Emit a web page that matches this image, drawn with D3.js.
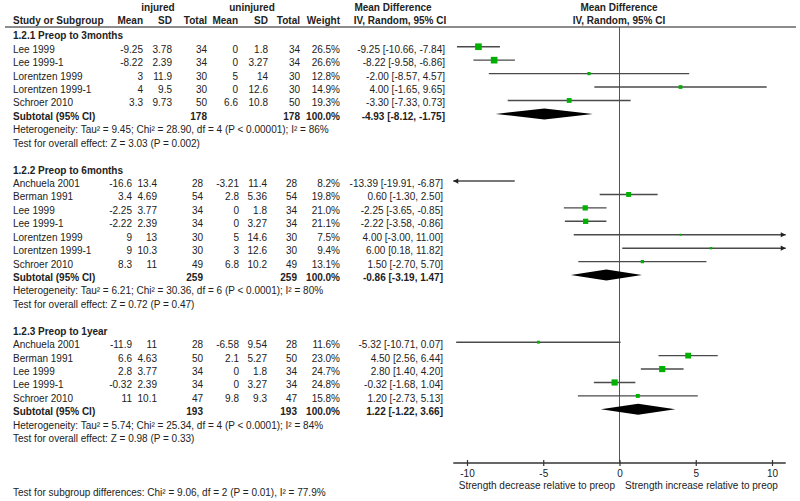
<!DOCTYPE html>
<html lang="en">
<head>
<meta charset="utf-8">
<title>Strength change forest plot</title>
<script src="https://cdn.jsdelivr.net/npm/d3@7"></script>
<style>
  body { margin: 0; background: #fff; }
  svg text { font-family: "Liberation Sans", Arial, sans-serif; font-size: 10px; fill: #222; }
  svg text.b { font-weight: bold; }
</style>
</head>
<body>
<svg width="800" height="501"></svg>
<script>
// ---- 1.2.1 Preop to 3months
var s1Title = "1.2.1 Preop to 3months";
var s1Studies = ["Lee 1999", "Lee 1999-1", "Lorentzen 1999", "Lorentzen 1999-1", "Schroer 2010"];
var s1InjMean = ["-9.25", "-8.22", "3", "4", "3.3"];
var s1InjSD = ["3.78", "2.39", "11.9", "9.5", "9.73"];
var s1InjN = [34, 34, 30, 30, 50];
var s1UnjMean = ["0", "0", "5", "0", "6.6"];
var s1UnjSD = ["1.8", "3.27", "14", "12.6", "10.8"];
var s1UnjN = [34, 34, 30, 30, 50];
var s1Weight = [26.5, 26.6, 12.8, 14.9, 19.3];
var s1MD = [-9.25, -8.22, -2.00, 4.00, -3.30];
var s1Lo = [-10.66, -9.58, -8.57, -1.65, -7.33];
var s1Hi = [-7.84, -6.86, 4.57, 9.65, 0.73];
var s1Total = [178, 178];
var s1Sub = [-4.93, -8.12, -1.75];
var s1Het = "Heterogeneity: Tau² = 9.45; Chi² = 28.90, df = 4 (P < 0.00001); I² = 86%";
var s1Test = "Test for overall effect: Z = 3.03 (P = 0.002)";

// ---- 1.2.2 Preop to 6months
var s2Title = "1.2.2 Preop to 6months";
var s2Studies = ["Anchuela 2001", "Berman 1991", "Lee 1999", "Lee 1999-1", "Lorentzen 1999", "Lorentzen 1999-1", "Schroer 2010"];
var s2InjMean = ["-16.6", "3.4", "-2.25", "-2.22", "9", "9", "8.3"];
var s2InjSD = ["13.4", "4.69", "3.77", "2.39", "13", "10.3", "11"];
var s2InjN = [28, 54, 34, 34, 30, 30, 49];
var s2UnjMean = ["-3.21", "2.8", "0", "0", "5", "3", "6.8"];
var s2UnjSD = ["11.4", "5.36", "1.8", "3.27", "14.6", "12.6", "10.2"];
var s2UnjN = [28, 54, 34, 34, 30, 30, 49];
var s2Weight = [8.2, 19.8, 21.0, 21.1, 7.5, 9.4, 13.1];
var s2MD = [-13.39, 0.60, -2.25, -2.22, 4.00, 6.00, 1.50];
var s2Lo = [-19.91, -1.30, -3.65, -3.58, -3.00, 0.18, -2.70];
var s2Hi = [-6.87, 2.50, -0.85, -0.86, 11.00, 11.82, 5.70];
var s2Total = [259, 259];
var s2Sub = [-0.86, -3.19, 1.47];
var s2Het = "Heterogeneity: Tau² = 6.21; Chi² = 30.36, df = 6 (P < 0.0001); I² = 80%";
var s2Test = "Test for overall effect: Z = 0.72 (P = 0.47)";

// ---- 1.2.3 Preop to 1year
var s3Title = "1.2.3 Preop to 1year";
var s3Studies = ["Anchuela 2001", "Berman 1991", "Lee 1999", "Lee 1999-1", "Schroer 2010"];
var s3InjMean = ["-11.9", "6.6", "2.8", "-0.32", "11"];
var s3InjSD = ["11", "4.63", "3.77", "2.39", "10.1"];
var s3InjN = [28, 50, 34, 34, 47];
var s3UnjMean = ["-6.58", "2.1", "0", "0", "9.8"];
var s3UnjSD = ["9.54", "5.27", "1.8", "3.27", "9.3"];
var s3UnjN = [28, 50, 34, 34, 47];
var s3Weight = [11.6, 23.0, 24.7, 24.8, 15.8];
var s3MD = [-5.32, 4.50, 2.80, -0.32, 1.20];
var s3Lo = [-10.71, 2.56, 1.40, -1.68, -2.73];
var s3Hi = [0.07, 6.44, 4.20, 1.04, 5.13];
var s3Total = [193, 193];
var s3Sub = [1.22, -1.22, 3.66];
var s3Het = "Heterogeneity: Tau² = 5.74; Chi² = 25.34, df = 4 (P < 0.0001); I² = 84%";
var s3Test = "Test for overall effect: Z = 0.98 (P = 0.33)";

var axisTicks = [-10, -5, 0, 5, 10];
var subgroupTest = "Test for subgroup differences: Chi² = 9.06, df = 2 (P = 0.01), I² = 77.9%";

function section(title, studies, im, isd, inn, um, usd, un, w, md, lo, hi, tot, sub, het, test) {
    return {title: title, het: het, test: test, total: tot, sub: sub,
        rows: studies.map(function(s, i) {
            return {study: s, im: im[i], isd: isd[i], inn: inn[i], um: um[i], usd: usd[i], un: un[i],
                    w: w[i], md: md[i], lo: lo[i], hi: hi[i]};
        })};
}

var sections = [
    section(s1Title, s1Studies, s1InjMean, s1InjSD, s1InjN, s1UnjMean, s1UnjSD, s1UnjN, s1Weight, s1MD, s1Lo, s1Hi, s1Total, s1Sub, s1Het, s1Test),
    section(s2Title, s2Studies, s2InjMean, s2InjSD, s2InjN, s2UnjMean, s2UnjSD, s2UnjN, s2Weight, s2MD, s2Lo, s2Hi, s2Total, s2Sub, s2Het, s2Test),
    section(s3Title, s3Studies, s3InjMean, s3InjSD, s3InjN, s3UnjMean, s3UnjSD, s3UnjN, s3Weight, s3MD, s3Lo, s3Hi, s3Total, s3Sub, s3Het, s3Test)
];

var svg = d3.select("svg");

// right-edge column positions (first block was laid out a bit wider)
var colsA = {im: 143, isd: 172, inn: 207, um: 238, usd: 268, un: 300, w: 340, ci: 445};
var colsB = {im: 132, isd: 157, inn: 203, um: 239, usd: 267, un: 297, w: 340, ci: 443};

var x = d3.scaleLinear().domain([-10, 10]).range([467, 772]);
var xMin = x(-10.9), xMax = x(10.9);
var rowY = d3.scaleLinear().domain([0, 30]).range([33.3, 436.2]);
var axisY = 463;

function txt(xp, yp, s, anchor, bold) {
    svg.append("text")
        .attr("x", xp).attr("y", yp)
        .attr("text-anchor", anchor || "start")
        .attr("class", bold ? "b" : null)
        .text(s);
}

// column headers
txt(158, 11, "injured", "middle", true);
txt(252, 11, "uninjured", "middle", true);
txt(393, 11, "Mean Difference", "middle", true);
txt(619, 11, "Mean Difference", "middle", true);
txt(13, 24, "Study or Subgroup", "start", true);
txt(colsA.im, 24, "Mean", "end", true);
txt(colsA.isd, 24, "SD", "end", true);
txt(colsA.inn, 24, "Total", "end", true);
txt(colsA.um, 24, "Mean", "end", true);
txt(colsA.usd, 24, "SD", "end", true);
txt(colsA.un, 24, "Total", "end", true);
txt(colsA.w, 24, "Weight", "end", true);
txt(400, 24, "IV, Random, 95% CI", "middle", true);
txt(619, 24, "IV, Random, 95% CI", "middle", true);

svg.append("line")
    .attr("x1", 5).attr("x2", 796).attr("y1", 27).attr("y2", 27)
    .attr("stroke", "#666").attr("stroke-width", 1.5);

// zero line
svg.append("line")
    .attr("x1", x(0)).attr("x2", x(0)).attr("y1", 27).attr("y2", axisY)
    .attr("stroke", "#555").attr("stroke-width", 1);

function ciText(m, l, h) {
    return m.toFixed(2) + " [" + l.toFixed(2) + ", " + h.toFixed(2) + "]";
}

var start = 0;
sections.forEach(function(sec, si) {
    var c = si === 0 ? colsA : colsB;
    var dy = 6;
    txt(13, rowY(start) + dy, sec.title, "start", true);

    sec.rows.forEach(function(r, i) {
        var yy = rowY(start + 1 + i);
        txt(13, yy + dy, r.study);
        txt(c.im, yy + dy, r.im, "end");
        txt(c.isd, yy + dy, r.isd, "end");
        txt(c.inn, yy + dy, r.inn, "end");
        txt(c.um, yy + dy, r.um, "end");
        txt(c.usd, yy + dy, r.usd, "end");
        txt(c.un, yy + dy, r.un, "end");
        txt(c.w, yy + dy, r.w.toFixed(1) + "%", "end");
        txt(c.ci, yy + dy, ciText(r.md, r.lo, r.hi), "end");

        // confidence interval line, clipped with arrows
        var x1 = Math.max(x(r.lo), xMin), x2 = Math.min(x(r.hi), xMax);
        svg.append("line")
            .attr("x1", x1).attr("x2", x2).attr("y1", yy).attr("y2", yy)
            .attr("stroke", "#4a4a4a").attr("stroke-width", 1.4);
        if (x(r.lo) < xMin) {
            svg.append("path")
                .attr("d", "M" + xMin + "," + yy + "l5,-2.6l0,5.2z")
                .attr("fill", "#222");
        }
        if (x(r.hi) > xMax) {
            svg.append("path")
                .attr("d", "M" + xMax + "," + yy + "l-5,-2.6l0,5.2z")
                .attr("fill", "#222");
        }
        if (x(r.md) >= xMin && x(r.md) <= xMax) {
            var s = Math.max(2, r.w * 0.25);
            svg.append("rect")
                .attr("x", x(r.md) - s / 2).attr("y", yy - s / 2)
                .attr("width", s).attr("height", s)
                .attr("fill", "#00b000");
        }
    });

    var n = sec.rows.length;
    var ys = rowY(start + n + 1);
    txt(13, ys + dy, "Subtotal (95% CI)", "start", true);
    txt(c.inn, ys + dy, sec.total[0], "end", true);
    txt(c.un, ys + dy, sec.total[1], "end", true);
    txt(c.w, ys + dy, "100.0%", "end", true);
    txt(c.ci, ys + dy, ciText(sec.sub[0], sec.sub[1], sec.sub[2]), "end", true);

    svg.append("polygon")
        .attr("points", [
            [x(sec.sub[1]), ys], [x(sec.sub[0]), ys - 5.5],
            [x(sec.sub[2]), ys], [x(sec.sub[0]), ys + 5.5]
        ].join(" "))
        .attr("fill", "#000");

    txt(13, rowY(start + n + 2) + dy, sec.het);
    txt(13, rowY(start + n + 3) + dy, sec.test);

    start += n + 5;
});

// axis
svg.append("line")
    .attr("x1", xMin).attr("x2", xMax).attr("y1", axisY).attr("y2", axisY)
    .attr("stroke", "#333").attr("stroke-width", 1.3);

var ax = svg.append("g")
    .attr("transform", "translate(0," + axisY + ")")
    .call(d3.axisBottom(x).tickValues(axisTicks).tickSizeOuter(0)
        .tickFormat(function(d) { return String(d); }));
ax.select(".domain").remove();
ax.selectAll(".tick line").attr("y1", -3).attr("y2", 3).attr("stroke", "#333").attr("stroke-width", 1.2);
ax.selectAll(".tick text").attr("y", 14).attr("dy", null)
    .style("font-family", "'Liberation Sans', Arial, sans-serif").style("font-size", "10px").attr("fill", "#222");

txt(615, 489, "Strength decrease relative to preop", "end");
txt(625, 489, "Strength increase relative to preop", "start");

txt(13, 496, subgroupTest);
</script>
</body>
</html>
